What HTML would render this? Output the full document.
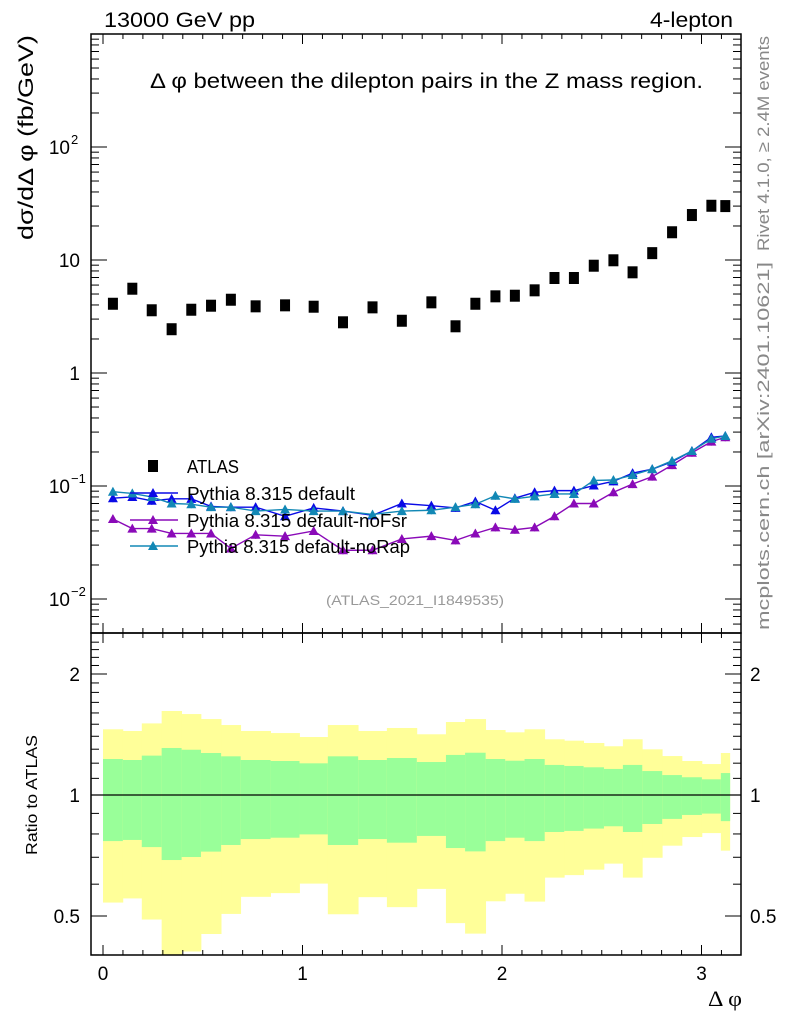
<!DOCTYPE html>
<html><head><meta charset="utf-8"><style>
html,body{margin:0;padding:0;background:#fff;}
svg{display:block;font-family:"Liberation Sans",sans-serif;}
</style></head><body>
<svg id="c" width="786" height="1024" viewBox="0 0 786 1024"></svg>
<script>
const edges=[0,0.0995,0.1945,0.294,0.394,0.491,0.592,0.690,0.840,0.985,1.127,1.279,1.423,1.573,1.719,1.815,1.918,2.016,2.113,2.214,2.312,2.409,2.511,2.606,2.703,2.803,2.902,3.002,3.097,3.1416];
const atlas=[4.1,5.57,3.59,2.44,3.63,3.94,4.45,3.89,3.97,3.86,2.81,3.81,2.90,4.22,2.59,4.1,4.77,4.83,5.39,6.93,6.93,8.9,9.94,7.78,11.5,17.6,25.0,30.2,30.0];
const pyDefault=[0.078,0.080,0.074,0.077,0.077,0.066,0.065,0.065,0.054,0.064,0.060,0.055,0.070,0.067,0.064,0.073,0.061,0.078,0.088,0.091,0.091,0.101,0.110,0.130,0.141,0.164,0.204,0.270,0.277];
const pyNoFsr=[0.051,0.042,0.042,0.038,0.038,0.038,0.028,0.037,0.036,0.040,0.027,0.027,0.034,0.036,0.033,0.038,0.043,0.041,0.043,0.054,0.070,0.070,0.088,0.104,0.121,0.153,0.197,0.247,0.270];
const pyNoRap=[0.089,0.086,0.080,0.070,0.069,0.065,0.065,0.060,0.062,0.060,0.060,0.056,0.060,0.061,0.065,0.069,0.082,0.077,0.081,0.085,0.085,0.112,0.113,0.125,0.141,0.167,0.204,0.262,0.277];
const yelHi=[1.457,1.443,1.507,1.618,1.590,1.545,1.493,1.443,1.426,1.394,1.493,1.443,1.468,1.416,1.519,1.545,1.451,1.432,1.457,1.376,1.365,1.347,1.322,1.376,1.299,1.250,1.215,1.194,1.272];
const grnHi=[1.229,1.222,1.253,1.309,1.296,1.272,1.248,1.222,1.215,1.199,1.248,1.222,1.236,1.208,1.258,1.274,1.229,1.217,1.229,1.188,1.181,1.172,1.161,1.188,1.147,1.121,1.107,1.094,1.134];
const grnLo=[0.768,0.773,0.742,0.689,0.701,0.723,0.751,0.777,0.783,0.798,0.751,0.777,0.761,0.791,0.738,0.724,0.768,0.783,0.768,0.809,0.814,0.825,0.836,0.809,0.847,0.872,0.892,0.899,0.861];
const yelLo=[0.540,0.553,0.490,0.35,0.408,0.451,0.506,0.558,0.570,0.602,0.505,0.557,0.526,0.584,0.480,0.452,0.544,0.568,0.543,0.623,0.632,0.652,0.675,0.623,0.698,0.748,0.786,0.804,0.727];
const xTicks=[0,1,2,3];
const mainTicks=[{v:100,t:"10",s:"2"},{v:10,t:"10",s:""},{v:1,t:"1",s:""},{v:0.1,t:"10",s:"−1"},{v:0.01,t:"10",s:"−2"}];
const ratioTicks=[2,1,0.5];

const L=91,R=741,T=34,M=633,B=955;
const X=v=>103+v*199.5;
const Y=v=>373-113*Math.log10(v);
const YR=v=>795-121*Math.log2(v);
const svg=document.getElementById('c');
const NS='http://www.w3.org/2000/svg';
function mk(tag,attrs,parent){const e=document.createElementNS(NS,tag);for(const k in attrs)e.setAttribute(k,attrs[k]);(parent||svg).appendChild(e);return e;}

const bands=mk('g',{'clip-path':'url(#rc)'});


const defs=mk('defs',{});
const cp=mk('clipPath',{id:'rc'},defs);mk('rect',{x:L,y:M,width:R-L,height:B-M},cp);
const cp2=mk('clipPath',{id:'mc'},defs);mk('rect',{x:L,y:T,width:R-L,height:M-T},cp2);
for(let i=0;i<atlas.length;i++){
  const x0=X(edges[i]),x1=X(edges[i+1]);
  const y1=mk('rect',{x:x0,y:YR(yelHi[i]),width:x1-x0+0.4,height:YR(yelLo[i])-YR(yelHi[i]),fill:'#ffff99'},bands);
  
  
  const g1=mk('rect',{x:x0,y:YR(grnHi[i]),width:x1-x0+0.4,height:YR(grnLo[i])-YR(grnHi[i]),fill:'#99ff99'},bands);
  
  
}
mk('line',{x1:L,x2:R,y1:YR(1),y2:YR(1),stroke:'#000','stroke-width':1.2});

mk('rect',{x:L,y:T,width:R-L,height:M-T,fill:'none',stroke:'#000','stroke-width':1.5});
mk('rect',{x:L,y:M,width:R-L,height:B-M,fill:'none',stroke:'#000','stroke-width':1.5});

for(let v=0;v<=3.2;v+=0.1){
  const vv=Math.round(v*10)/10;const x=X(vv);if(x>R)break;
  const maj=Math.abs(vv-Math.round(vv))<1e-6;const len=maj?10:5;
  for(const [yb,yt] of [[M,T],[B,M]]){
    mk('line',{x1:x,x2:x,y1:yb,y2:yb-len,stroke:'#000','stroke-width':1});
    mk('line',{x1:x,x2:x,y1:yt,y2:yt+len,stroke:'#000','stroke-width':1});
  }
}
xTicks.forEach(v=>{const t=mk('text',{x:X(v),y:980,'font-size':19,'text-anchor':'middle'});t.textContent=v;

});

for(let d=-3;d<=2;d++){for(let m=1;m<10;m++){const v=m*Math.pow(10,d);const y=Y(v);if(y<T||y>M)continue;
  const len=m===1?16:8;
  mk('line',{x1:L,x2:L+len,y1:y,y2:y,stroke:'#000'});mk('line',{x1:R,x2:R-len,y1:y,y2:y,stroke:'#000'});}}
mainTicks.forEach(o=>{const t=mk('text',{x:o.s?70:80,y:Y(o.v)+7,'font-size':19,'text-anchor':'end'});t.textContent=o.t;


if(o.s){const s=mk('text',{x:71,y:Y(o.v)-3,'font-size':13});s.textContent=o.s;}});

for(let v=0.4;v<=2.5;v+=0.1){const vv=Math.round(v*10)/10;const y=YR(vv);if(y<M||y>B)continue;
  const maj=(vv===0.5||vv===1||vv===2);const len=maj?16:8;
  mk('line',{x1:L,x2:L+len,y1:y,y2:y,stroke:'#000'});mk('line',{x1:R,x2:R-len,y1:y,y2:y,stroke:'#000'});}
ratioTicks.forEach(v=>{for(const [x,a] of [[80,'end'],[750,'start']]){const t=mk('text',{x:x,y:YR(v)+7,'font-size':19,'text-anchor':a});t.textContent=v;

}});

function series(vals,color,name){
  const g=mk('g',{'clip-path':'url(#mc)'});
  
  
  let d='';
  vals.forEach((v,i)=>{const x=X((edges[i]+edges[i+1])/2),y=Y(v);d+=(i?'L':'M')+x+','+y;});
  mk('path',{d:d,fill:'none',stroke:color,'stroke-width':1.4},g);
  vals.forEach((v,i)=>{const x=X((edges[i]+edges[i+1])/2),y=Y(v);
    mk('line',{x1:x,x2:x,y1:y-4,y2:y+4,stroke:color,'stroke-width':1.2},g);
    const p=mk('path',{d:`M${x-5},${y+4}L${x+5},${y+4}L${x},${y-5}Z`,fill:color},g);
    
    });
}
series(pyNoFsr,'#8a0ab8','series-nofsr');
series(pyDefault,'#0a0ae6','series-default');
series(pyNoRap,'#1288b5','series-norap');

atlas.forEach((v,i)=>{const x=X((edges[i]+edges[i+1])/2),y=Y(v);
  const r=mk('rect',{x:x-5,y:y-6,width:10,height:12,fill:'#000'});
  
  });

const leg=[['ATLAS',null,466,52],['Pythia 8.315 default','#0a0ae6',493,168],['Pythia 8.315 default-noFsr','#8a0ab8',520,220],['Pythia 8.315 default-noRap','#1288b5',546,223]];
leg.forEach(([txt,col,y,w])=>{
  if(!col){mk('rect',{x:148,y:y-6,width:10,height:12,fill:'#000'});}
  else{mk('line',{x1:130,x2:178,y1:y,y2:y,stroke:col,'stroke-width':1.4});
    mk('path',{d:`M148,${y+4}L158,${y+4}L153,${y-5}Z`,fill:col});}
  const t=mk('text',{x:187,y:y+7,'font-size':18,textLength:w,lengthAdjust:'spacingAndGlyphs'});t.textContent=txt;
  
  
});

function txt(s,attrs,name){const t=mk('text',attrs);t.textContent=s;
  
  return t;}
txt('13000 GeV pp',{x:104,y:27,'font-size':21,textLength:151,lengthAdjust:'spacingAndGlyphs'},'energy-label');
txt('4-lepton',{x:650,y:27,'font-size':21,textLength:83,lengthAdjust:'spacingAndGlyphs'},'process-label');
txt('Δ φ between the dilepton pairs in the Z mass region.',{x:150,y:88,'font-size':21,textLength:553,lengthAdjust:'spacingAndGlyphs'},'plot-title');
txt('dσ/dΔ φ (fb/GeV)',{x:0,y:0,'font-size':21,textLength:205,lengthAdjust:'spacingAndGlyphs',transform:'translate(33,240) rotate(-90)'},'y-axis-title');
txt('Ratio to ATLAS',{x:0,y:0,'font-size':16,textLength:120,lengthAdjust:'spacingAndGlyphs',transform:'translate(37,855) rotate(-90)'},'ratio-axis-title');
txt('Δ φ',{x:708,y:1006,'font-size':22,'font-family':'Liberation Serif',textLength:34,lengthAdjust:'spacingAndGlyphs'},'x-axis-title');
txt('(ATLAS_2021_I1849535)',{x:326,y:605,'font-size':14,fill:'#999',textLength:178,lengthAdjust:'spacingAndGlyphs'},'analysis-id');
txt('Rivet 4.1.0, ≥ 2.4M events',{x:0,y:0,'font-size':17,fill:'#888',textLength:215,lengthAdjust:'spacingAndGlyphs',transform:'translate(769,251) rotate(-90)'},'rivet-label');
txt('mcplots.cern.ch [arXiv:2401.10621]',{x:0,y:0,'font-size':17,fill:'#888',textLength:368,lengthAdjust:'spacingAndGlyphs',transform:'translate(769,630) rotate(-90)'},'mcplots-label');
</script>
</body></html>
